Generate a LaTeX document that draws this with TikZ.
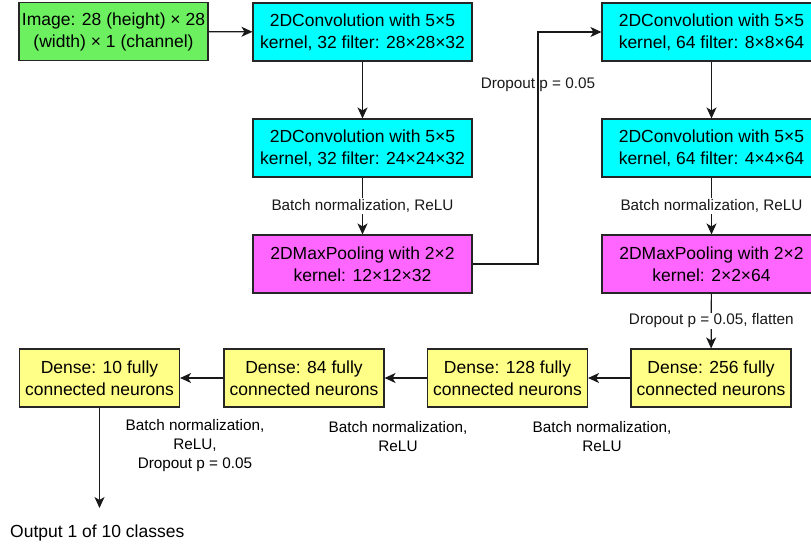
\documentclass[tikz,border=0pt]{standalone}
\usepackage{fontspec}
\setmainfont{Liberation Sans}
\usepackage{tikz}
\usetikzlibrary{arrows.meta}
\definecolor{imggreen}{RGB}{108,240,96}
\definecolor{convcyan}{RGB}{0,255,255}
\definecolor{poolpink}{RGB}{255,102,255}
\definecolor{denseyellow}{RGB}{255,255,136}
\tikzset{
    layer/.style={draw=black!85, line width=1.1pt, align=center, inner sep=2pt,
        minimum height=58pt, font=\fontsize{17.5}{22}\selectfont},
    imgbox/.style={layer, fill=imggreen, minimum width=189pt},
    convbox/.style={layer, fill=convcyan, minimum width=219pt},
    poolbox/.style={layer, fill=poolpink, minimum width=219pt},
    densebox/.style={layer, fill=denseyellow, minimum width=160pt},
    lbl/.style={align=center, inner sep=1pt, font=\fontsize{15.3}{19}\selectfont},
    arr/.style={-{Stealth[length=11pt,width=10pt,inset=3pt]}, line width=1.2pt, black!90}
}

\begin{document}
\begin{tikzpicture}[x=1pt,y=-1pt]
		\useasboundingbox (0,0) rectangle (811,549);

		% first conv block
		\node[imgbox] (img) at (113.5,31.5) {Image: 28 (height) × 28\\(width) × 1 (channel)};
		\node[convbox] (conv1) at (362.5,32) {2DConvolution with 5×5\\kernel, 32 filter: 28×28×32};
		\node[convbox] (conv2) at (362.5,148) {2DConvolution with 5×5\\kernel, 32 filter: 24×24×32};
		\node[poolbox] (pool1) at (362.5,264) {2DMaxPooling with 2×2\\kernel: 12×12×32};
		\draw[arr] (img) -- (conv1);
		\draw[arr] (conv1) -- (conv2);
		\draw[arr] (conv2) -- node[lbl, fill=white] {Batch normalization, ReLU} (pool1);

		% second conv block
		\node[convbox] (conv3) at (711.5,32) {2DConvolution with 5×5\\kernel, 64 filter: 8×8×64};
		\node[convbox] (conv4) at (711.5,148) {2DConvolution with 5×5\\kernel, 64 filter: 4×4×64};
		\node[poolbox] (pool2) at (711.5,264) {2DMaxPooling with 2×2\\kernel: 2×2×64};
		\coordinate (jog) at (538,264);
		\draw[arr] (pool1.east) -- (jog) |- node[lbl, pos=0.386] {Dropout p = 0.05} (conv3.west);
		\draw[arr] (conv3) -- (conv4);
		\draw[arr] (conv4) -- node[lbl, fill=white] {Batch normalization, ReLU} (pool2);

		% dense layers
		\node[densebox] (d256) at (711,378) {Dense: 256 fully\\connected neurons};
		\node[densebox] (d128) at (507.5,378) {Dense: 128 fully\\connected neurons};
		\node[densebox] (d84) at (304,378) {Dense: 84 fully\\connected neurons};
		\node[densebox] (d10) at (99.5,378) {Dense: 10 fully\\connected neurons};
		\draw[arr] (pool2) -- node[lbl, fill=white] {Dropout p = 0.05, flatten} (d256);
		\draw[arr] (d256) -- (d128);
		\draw[arr] (d128) -- (d84);
		\draw[arr] (d84) -- (d10);
		\node[lbl] (bn256) at (602,437) {Batch normalization,\\ReLU};
		\node[lbl] (bn128) at (398,437) {Batch normalization,\\ReLU};
		\node[lbl] (bn84) at (195,446) {Batch normalization,\\ReLU,\\Dropout p = 0.05};

		% output
		\coordinate (outend) at (101,508);
		\draw[arr] (d10.south) -- (d10.south |- outend);
		\node[anchor=west, font=\fontsize{17.5}{22}\selectfont, inner sep=0pt] (out) at (10,533) {Output 1 of 10 classes};
	\end{tikzpicture}
\end{document}
